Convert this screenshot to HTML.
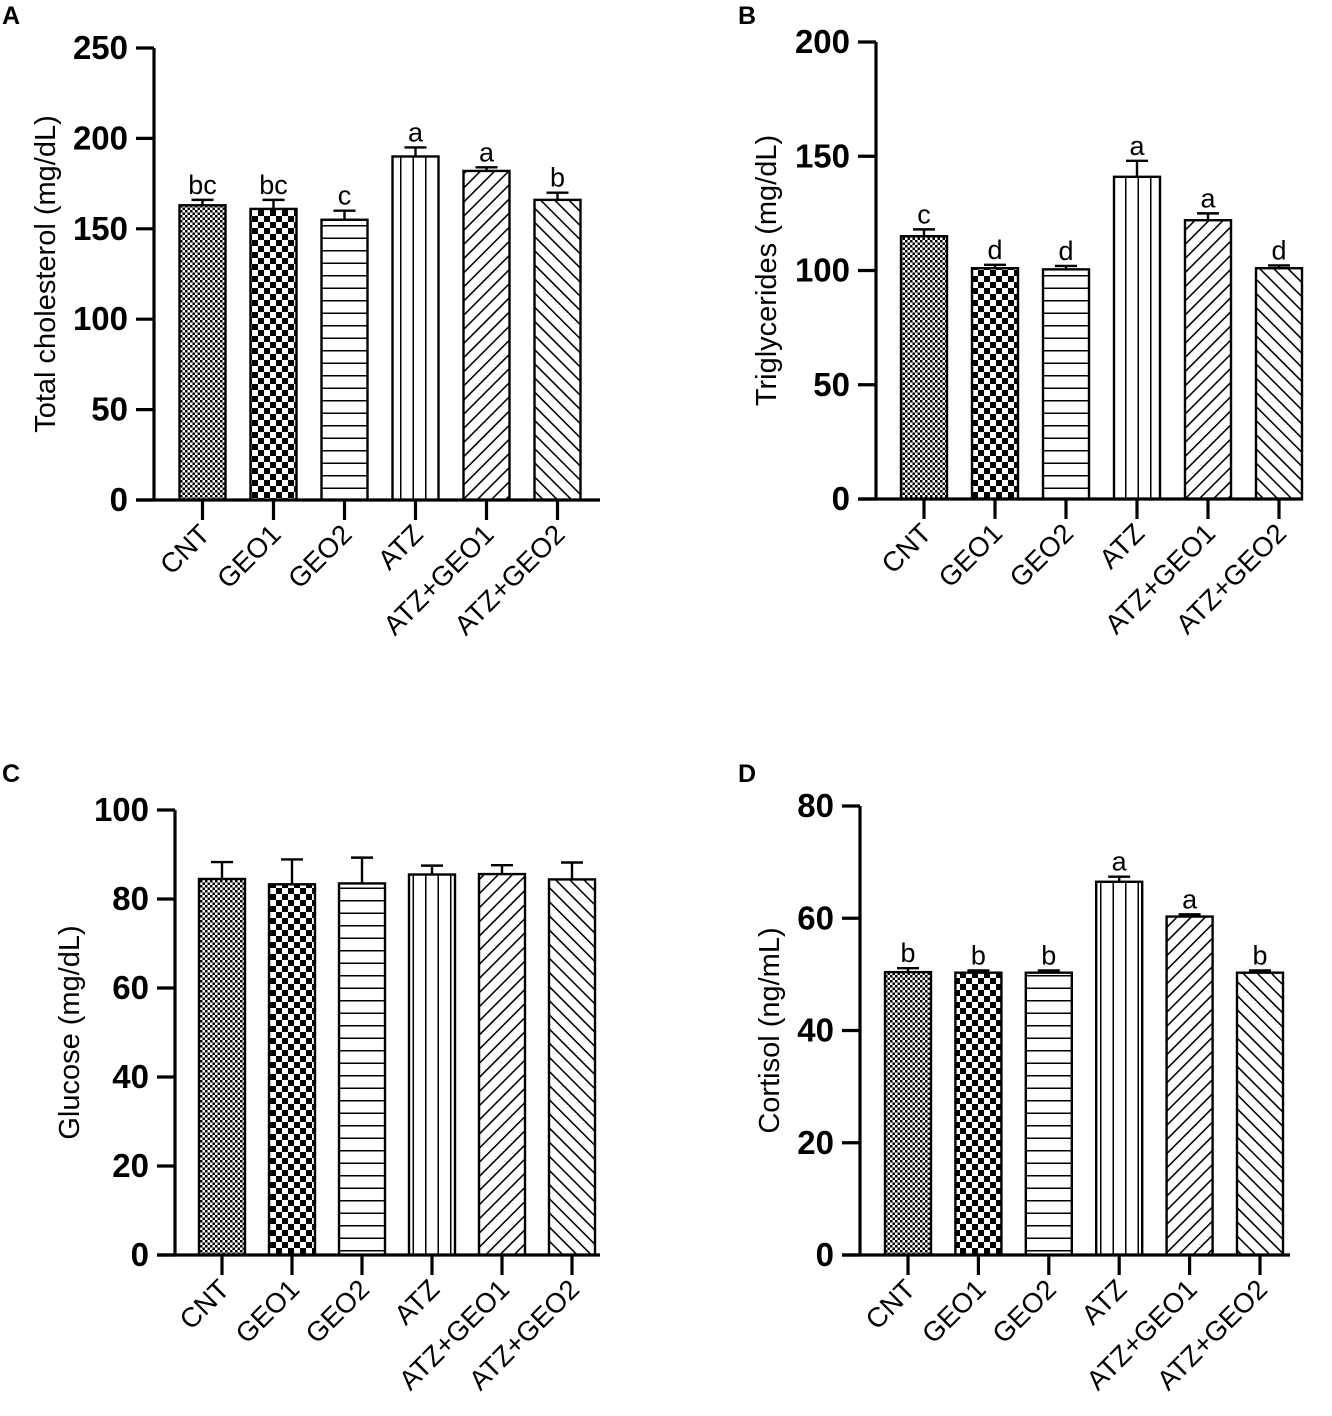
<!DOCTYPE html>
<html><head><meta charset="utf-8"><style>
body{margin:0;background:#fff}
svg{display:block;font-family:"Liberation Sans",Arial,sans-serif}
</style></head><body>
<svg id="fig" width="1332" height="1416" viewBox="0 0 1332 1416" xmlns="http://www.w3.org/2000/svg">
<defs>
<pattern id="pSmall" width="5" height="5" patternUnits="userSpaceOnUse"><rect width="5" height="5" fill="#fff"/><rect width="2.5" height="2.5" fill="#000"/><rect x="2.5" y="2.5" width="2.5" height="2.5" fill="#000"/></pattern>
<pattern id="pBig" width="12" height="12" patternUnits="userSpaceOnUse"><rect width="12" height="12" fill="#fff"/><rect width="6" height="6" fill="#000"/><rect x="6" y="6" width="6" height="6" fill="#000"/></pattern>
<pattern id="pH" width="13" height="12.5" patternUnits="userSpaceOnUse"><rect width="13" height="12.5" fill="#fff"/><line x1="0" y1="0.75" x2="13" y2="0.75" stroke="#000" stroke-width="1.5"/></pattern>
<pattern id="pV" width="12.5" height="13" patternUnits="userSpaceOnUse"><rect width="12.5" height="13" fill="#fff"/><line x1="0.75" y1="0" x2="0.75" y2="13" stroke="#000" stroke-width="1.5"/></pattern>
<pattern id="pD1" width="10" height="10" patternUnits="userSpaceOnUse" patternTransform="rotate(45)"><rect width="10" height="10" fill="#fff"/><line x1="0.75" y1="0" x2="0.75" y2="10" stroke="#000" stroke-width="1.6"/></pattern>
<pattern id="pD2" width="10" height="10" patternUnits="userSpaceOnUse" patternTransform="rotate(-45)"><rect width="10" height="10" fill="#fff"/><line x1="0.75" y1="0" x2="0.75" y2="10" stroke="#000" stroke-width="1.6"/></pattern>
</defs>
</svg>
<script>
const categories = ["CNT","GEO1","GEO2","ATZ","ATZ+GEO1","ATZ+GEO2"];
const cholMeans = [163,161,155,190,182,166];
const cholErr = [3,5,5,5,2,4];
const cholLetters = ["bc","bc","c","a","a","b"];
const cholTicks = [0,50,100,150,200,250];
const trigMeans = [115,101,100.5,141,122,101];
const trigErr = [3,1.5,1.5,7,3,1.2];
const trigLetters = ["c","d","d","a","a","d"];
const trigTicks = [0,50,100,150,200];
const gluMeans = [84.5,83.3,83.5,85.5,85.6,84.4];
const gluErr = [3.8,5.6,5.8,2,2,3.8];
const gluLetters = ["","","","","",""];
const gluTicks = [0,20,40,60,80,100];
const cortMeans = [50.4,50.3,50.3,66.5,60.3,50.3];
const cortErr = [0.7,0.4,0.4,0.9,0.4,0.4];
const cortLetters = ["b","b","b","a","a","b"];
const cortTicks = [0,20,40,60,80];

const NS="http://www.w3.org/2000/svg";
const svg=document.getElementById('fig');
const fills=["url(#pSmall)","url(#pBig)","url(#pH)","url(#pV)","url(#pD1)","url(#pD2)"];
function mk(tag,attrs,parent){const e=document.createElementNS(NS,tag);for(const k in attrs)e.setAttribute(k,attrs[k]);(parent||svg).appendChild(e);return e;}

function panel(cfg){
  const g=mk('g',{});
  
  
  const ymax=cfg.ticks[cfg.ticks.length-1];
  const y=v=>cfg.y0-(v/ymax)*(cfg.y0-cfg.yTop);
  const x=i=>cfg.x1+i*cfg.step;
  const lt=mk('text',{x:cfg.lx,y:cfg.ly,'font-size':25,'font-weight':'bold'},g);lt.textContent=cfg.id;
  
  cfg.means.forEach((m,i)=>{
    const cx=x(i),hw=23;
    const eb=mk('path',{d:`M${cx} ${y(m)} V${y(m+cfg.err[i])} M${cx-11} ${y(m+cfg.err[i])} H${cx+11}`,stroke:'#000','stroke-width':2.4,fill:'none'},g);
    
    const r=mk('rect',{x:cx-hw,y:y(m),width:2*hw,height:cfg.y0-y(m),fill:fills[i],stroke:'#000','stroke-width':2.4},g);
    
    if(cfg.letters[i]){const t=mk('text',{x:cx,y:y(m+cfg.err[i])-6,'font-size':27,'text-anchor':'middle'},g);t.textContent=cfg.letters[i];
      }
  });
  const ax=mk('path',{d:`M${cfg.ax} ${cfg.yTop} V${cfg.y0} M${cfg.ax-18} ${cfg.y0} H${cfg.xEnd}`,stroke:'#000','stroke-width':3.2,fill:'none'},g);
  
  cfg.ticks.forEach(v=>{
    mk('line',{x1:cfg.ax-18,x2:cfg.ax,y1:y(v),y2:y(v),stroke:'#000','stroke-width':3.2},g);
    const t=mk('text',{x:cfg.ax-26,y:y(v)+11,'font-size':33,'font-weight':'bold','text-anchor':'end'},g);t.textContent=v;
    
  });
  categories.forEach((c,i)=>{
    mk('line',{x1:x(i),x2:x(i),y1:cfg.y0,y2:cfg.y0+20,stroke:'#000','stroke-width':3.2},g);
    const t=mk('text',{x:0,y:0,'font-size':27.5,'text-anchor':'end',transform:`translate(${x(i)+9},${cfg.y0+36}) rotate(-45)`},g);t.textContent=c;
    
  });
  const yt=mk('text',{x:0,y:0,'font-size':29,'text-anchor':'middle',transform:`translate(${cfg.tx},${(cfg.y0+cfg.yTop)/2}) rotate(-90)`},g);yt.textContent=cfg.title;
  
}
panel({id:'A',lx:2,ly:24,ax:154,yTop:48,y0:500,xEnd:600,x1:202.5,step:71,ticks:cholTicks,means:cholMeans,err:cholErr,letters:cholLetters,title:'Total cholesterol (mg/dL)',tx:55});
panel({id:'B',lx:738,ly:24,ax:876,yTop:42,y0:499,xEnd:1303,x1:924,step:71,ticks:trigTicks,means:trigMeans,err:trigErr,letters:trigLetters,title:'Triglycerides (mg/dL)',tx:776});
panel({id:'C',lx:2,ly:782,ax:175,yTop:810,y0:1255,xEnd:600,x1:222,step:70,ticks:gluTicks,means:gluMeans,err:gluErr,letters:gluLetters,title:'Glucose (mg/dL)',tx:79});
panel({id:'D',lx:738,ly:782,ax:860,yTop:806,y0:1255,xEnd:1290,x1:908,step:70.4,ticks:cortTicks,means:cortMeans,err:cortErr,letters:cortLetters,title:'Cortisol (ng/mL)',tx:779});
</script>
</body></html>
